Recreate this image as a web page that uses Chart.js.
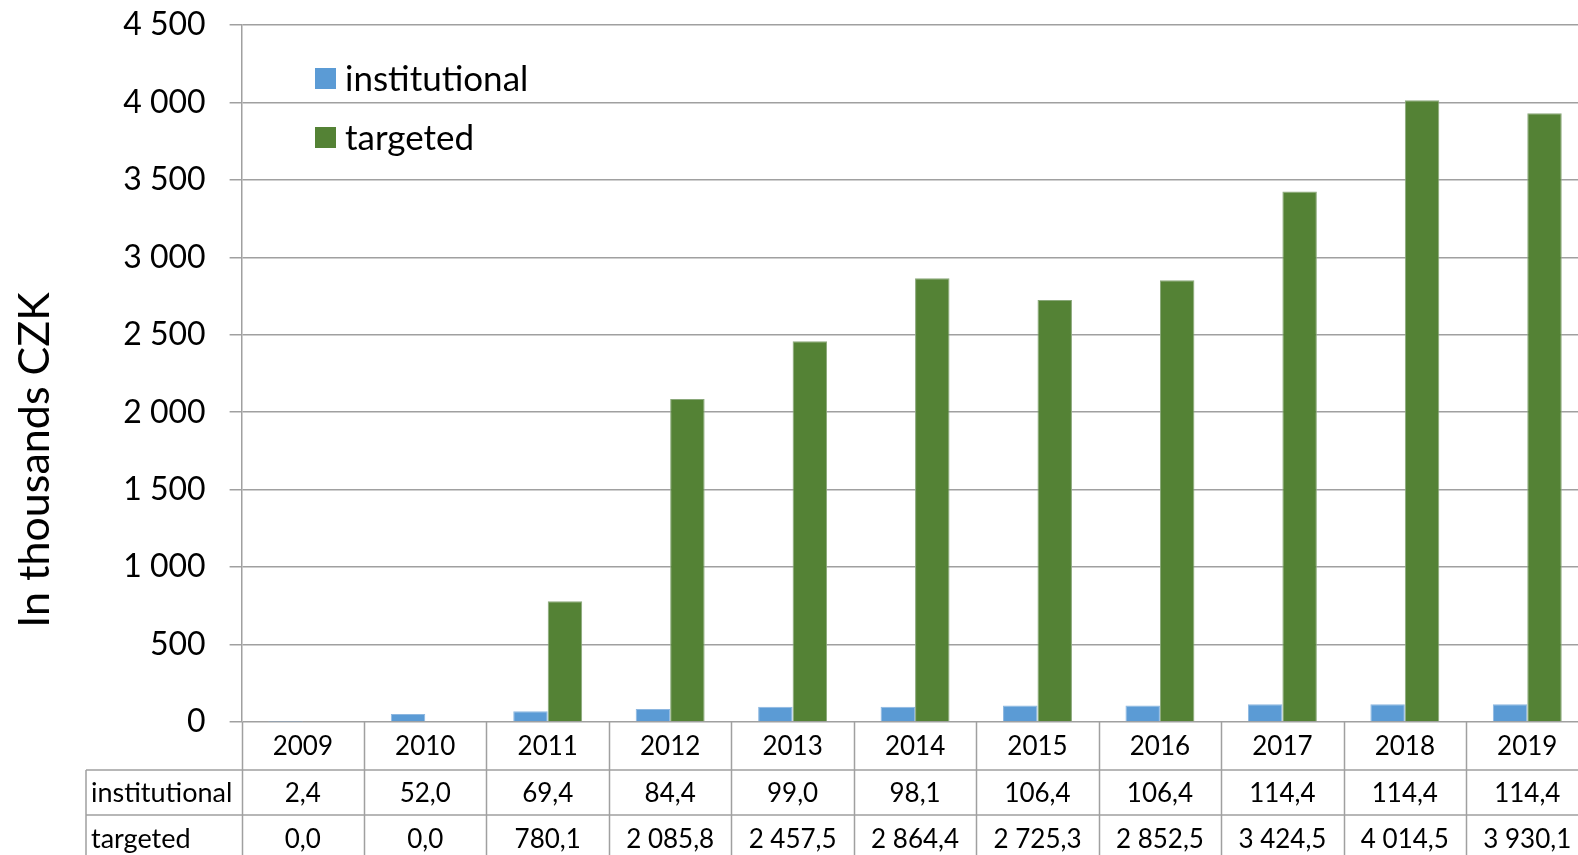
<!DOCTYPE html>
<html>
<head>
<meta charset="utf-8">
<script src="https://cdn.jsdelivr.net/npm/chart.js@4/dist/chart.umd.min.js"></script>
<style>
  html, body { margin: 0; padding: 0; background: #fff; overflow: hidden; }
  canvas { display: block; }
</style>
</head>
<body>
<canvas id="budgetChart" width="1590" height="855"></canvas>
<script>
// DATA
var years = ["2009", "2010", "2011", "2012", "2013", "2014", "2015", "2016", "2017", "2018", "2019"];
var institutional = [2.4, 52.0, 69.4, 84.4, 99.0, 98.1, 106.4, 106.4, 114.4, 114.4, 114.4];
var targeted = [0.0, 0.0, 780.1, 2085.8, 2457.5, 2864.4, 2725.3, 2852.5, 3424.5, 4014.5, 3930.1];
var seriesNames = ["institutional", "targeted"];
var axisTitle = "In thousands CZK";

var FONT = "Lato, 'Open Sans', sans-serif";
var GRID = "#a0a0a0";

// number like "2 085,8"
function fmt(v, dec) {
    var parts = v.toFixed(dec).split(".");
    var whole = parts[0].replace(/\B(?=(\d{3})+(?!\d))/g, " ");
    return dec ? whole + "," + parts[1] : whole;
}

// legend drawn inside the plot, top left
var legendPlugin = {
    id: "innerLegend",
    afterDraw: function(chart) {
        var ctx = chart.ctx;
        ctx.save();
        ctx.font = "35px " + FONT;
        ctx.textBaseline = "middle";
        ctx.textAlign = "left";
        chart.data.datasets.forEach(function(ds, i) {
            var cy = 78.5 + i * 59;
            ctx.fillStyle = ds.backgroundColor;
            ctx.fillRect(315, cy - 10.5, 21, 21);
            ctx.fillStyle = "#000";
            ctx.fillText(ds.label, 345, cy + 1);
        });
        ctx.restore();
    }
};

// rotated axis title
var titlePlugin = {
    id: "sideTitle",
    afterDraw: function(chart) {
        var ctx = chart.ctx;
        ctx.save();
        ctx.translate(35, 460);
        ctx.rotate(-Math.PI / 2);
        ctx.font = "43px " + FONT;
        ctx.fillStyle = "#000";
        ctx.textAlign = "center";
        ctx.textBaseline = "middle";
        ctx.fillText(axisTitle, 0, 0);
        ctx.restore();
    }
};

// data table below the x axis
var tablePlugin = {
    id: "dataTable",
    afterDraw: function(chart) {
        var ctx = chart.ctx;
        var xs = chart.scales.x;
        var area = chart.chartArea;
        var n = years.length;
        var colW = (xs.right - xs.left) / n;
        var rows = [area.bottom, area.bottom + 48, area.bottom + 93, area.bottom + 140];
        var labelLeft = 86;

        ctx.save();
        ctx.strokeStyle = GRID;
        ctx.lineWidth = 1.5;
        ctx.beginPath();
        for (var r = 1; r < rows.length; r++) {
            ctx.moveTo(labelLeft, rows[r]);
            ctx.lineTo(area.right + 5, rows[r]);
        }
        ctx.moveTo(labelLeft, rows[1]);
        ctx.lineTo(labelLeft, rows[3]);
        for (var i = 0; i <= n; i++) {
            var bx = Math.round(xs.left + i * colW) + 0.5;
            ctx.moveTo(bx, area.bottom);
            ctx.lineTo(bx, rows[3]);
        }
        ctx.stroke();

        ctx.fillStyle = "#000";
        ctx.font = "26px " + FONT;
        ctx.textBaseline = "middle";
        ctx.textAlign = "center";
        years.forEach(function(y, i) {
            var cx = xs.getPixelForTick(i);
            ctx.fillText(y, cx, (rows[0] + rows[1]) / 2 + 1);
            ctx.fillText(fmt(institutional[i], 1), cx, (rows[1] + rows[2]) / 2 + 1);
            ctx.fillText(fmt(targeted[i], 1), cx, (rows[2] + rows[3]) / 2 + 1);
        });
        ctx.font = "27px " + FONT;
        ctx.textAlign = "left";
        ctx.fillText(seriesNames[0], 91, (rows[1] + rows[2]) / 2 + 1);
        ctx.fillText(seriesNames[1], 91, (rows[2] + rows[3]) / 2 + 1);
        ctx.restore();
    }
};

var ctxBudget = document.getElementById("budgetChart").getContext("2d");
var budgetChart = new Chart(ctxBudget, {
    type: "bar",
    data: {
        labels: years,
        datasets: [{
            label: seriesNames[0],
            data: institutional,
            backgroundColor: "#5b9bd5",
            borderColor: "#8db7e0",
            borderWidth: 1
        }, {
            label: seriesNames[1],
            data: targeted,
            backgroundColor: "#548235",
            borderColor: "#8aa87a",
            borderWidth: 1
        }]
    },
    options: {
        animation: false,
        responsive: false,
        events: [],
        layout: {
            padding: { top: 25, left: 0, right: 1.5, bottom: 0 }
        },
        plugins: {
            legend: { display: false },
            tooltip: { enabled: false }
        },
        datasets: {
            bar: {
                categoryPercentage: 0.563,
                barPercentage: 1
            }
        },
        scales: {
            x: {
                grid: { display: false },
                border: { display: false },
                ticks: { display: false },
                afterFit: function(scale) {
                    scale.height = 133;
                }
            },
            y: {
                min: 0,
                max: 4500,
                ticks: {
                    stepSize: 500,
                    padding: 24,
                    color: "#000",
                    font: { family: FONT, size: 32 },
                    callback: function(v) { return fmt(v, 0); }
                },
                grid: {
                    color: GRID,
                    lineWidth: 1.5,
                    tickLength: 12
                },
                border: { color: GRID, width: 1.5 },
                afterFit: function(scale) {
                    scale.width = 241.6;
                    scale.paddingTop = 0;
                    scale.paddingBottom = 0;
                }
            }
        }
    },
    plugins: [legendPlugin, titlePlugin, tablePlugin]
});
</script>
</body>
</html>
